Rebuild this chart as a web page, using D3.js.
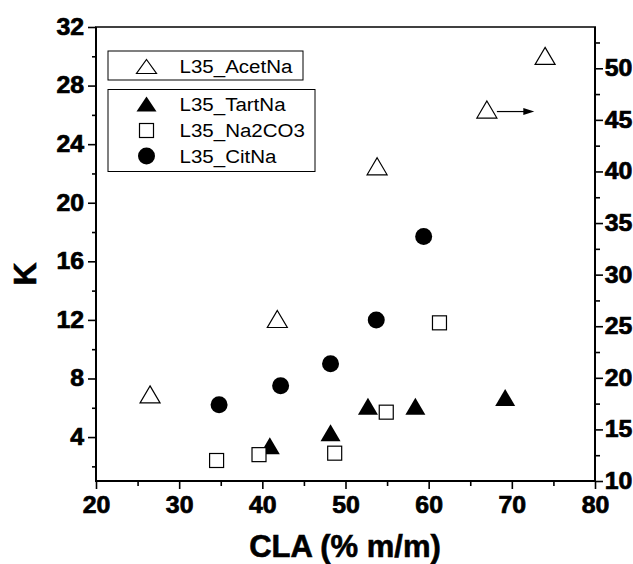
<!DOCTYPE html>
<html>
<head>
<meta charset="utf-8">
<script src="https://cdn.jsdelivr.net/npm/d3@7"></script>
<style>
    body { margin: 0; background: #fff; }
    text { font-family: "Liberation Sans", Arial, sans-serif; }
</style>
</head>
<body>
<div id="chart"></div>
<script>
// CLA content (% m/m) and K per series; AcetNa is read on the right axis
let acetX = [26.5, 41.8, 53.8, 67.0, 74.0]
let acetK = [18.4, 25.7, 40.5, 46.0, 51.2]
let tartX = [40.9, 48.2, 52.7, 58.4, 69.2]
let tartK = [3.4, 4.3, 6.1, 6.1, 6.7]
let na2X = [34.5, 39.6, 48.7, 54.9, 61.3]
let na2K = [2.4, 2.8, 2.9, 5.7, 11.8]
let citX = [34.8, 42.2, 48.2, 53.7, 59.4]
let citK = [6.2, 7.5, 9.0, 12.0, 17.7]

let xTicks = [20, 30, 40, 50, 60, 70, 80]
let leftTicks = [4, 8, 12, 16, 20, 24, 28, 32]
let rightTicks = [10, 15, 20, 25, 30, 35, 40, 45, 50]
let arrowEnd = 72.7

function zip(xs, ys) {
    return xs.map(function(x, i) { return { x: x, y: ys[i] }; })
}

function triangle(w, h) {
    return "M0," + (-h / 2) + "L" + (w / 2) + "," + (h / 2) + "L" + (-w / 2) + "," + (h / 2) + "Z"
}

function drawChart() {
    let width = 633,
        height = 564
    let left = 96, right = 595, top = 27, bottom = 481
    let svg = d3.select("#chart").append("svg")
        .attr("width", width)
        .attr("height", height)

    let xScale = d3.scaleLinear().domain([20, 80]).range([left, right])
    let yLeft = d3.scaleLinear().domain([1, 32]).range([bottom, top])
    let yRight = d3.scaleLinear().domain([10, 54]).range([bottom, top])

    // minor ticks first, majors over them
    svg.append("g")
        .attr("transform", "translate(0," + bottom + ")")
        .call(d3.axisBottom(xScale).tickValues(d3.range(25, 80, 10)).tickSize(5).tickFormat(""))
    svg.append("g")
        .attr("transform", "translate(" + left + ",0)")
        .call(d3.axisLeft(yLeft).tickValues(d3.range(2, 32, 4)).tickSize(4).tickFormat(""))
    svg.append("g")
        .attr("transform", "translate(" + right + ",0)")
        .call(d3.axisRight(yRight).tickValues(d3.range(12.5, 54, 5)).tickSize(5).tickFormat(""))

    let xAxis = svg.append("g")
        .attr("transform", "translate(0," + bottom + ")")
        .call(d3.axisBottom(xScale).tickValues(xTicks).tickSize(8).tickPadding(8))
    let lAxis = svg.append("g")
        .attr("transform", "translate(" + left + ",0)")
        .call(d3.axisLeft(yLeft).tickValues(leftTicks).tickSize(8).tickPadding(3))
    let rAxis = svg.append("g")
        .attr("transform", "translate(" + right + ",0)")
        .call(d3.axisRight(yRight).tickValues(rightTicks).tickSize(8).tickPadding(1))

    svg.selectAll(".domain").remove()
    svg.selectAll(".tick line").attr("stroke", "#000").attr("stroke-width", 1.6)
    svg.selectAll(".tick text")
        .attr("fill", "#000")
        .attr("stroke", "#000")
        .attr("stroke-width", 0.7)
        .attr("font-family", "Liberation Sans, Arial, sans-serif")
        .attr("font-size", 23)
        .attr("font-weight", 700)
        .attr("transform", "scale(1.08,1)")

    // frame
    svg.append("line").attr("x1", left).attr("x2", left).attr("y1", top).attr("y2", bottom + 1)
        .attr("stroke", "#000").attr("stroke-width", 2)
    svg.append("line").attr("x1", right).attr("x2", right).attr("y1", top).attr("y2", bottom + 1)
        .attr("stroke", "#000").attr("stroke-width", 2)
    svg.append("line").attr("x1", left - 1).attr("x2", right + 1).attr("y1", bottom).attr("y2", bottom)
        .attr("stroke", "#000").attr("stroke-width", 2)
    svg.append("line").attr("x1", left - 1).attr("x2", right + 1).attr("y1", top).attr("y2", top)
        .attr("stroke", "#000").attr("stroke-width", 1.5)

    // axis titles
    svg.append("text")
        .attr("transform", "translate(" + 36 + "," + 274 + ") rotate(-90)")
        .attr("text-anchor", "middle")
        .attr("stroke", "#000")
        .attr("stroke-width", 0.6)
        .style("font-size", "32px")
        .style("font-weight", "bold")
        .text("K")
    svg.append("text")
        .attr("x", 345)
        .attr("y", 557)
        .attr("text-anchor", "middle")
        .attr("stroke", "#000")
        .attr("stroke-width", 0.6)
        .style("font-size", "31px")
        .style("font-weight", "bold")
        .text("CLA (% m/m)")

    // series
    svg.selectAll(".acet")
        .data(zip(acetX, acetK))
        .enter()
        .append("path")
        .attr("class", "acet")
        .attr("d", triangle(20, 17))
        .attr("transform", function(d) { return "translate(" + xScale(d.x) + "," + yRight(d.y) + ")"; })
        .attr("fill", "#fff")
        .attr("stroke", "#000")
        .attr("stroke-width", 1.2)
    svg.selectAll(".tart")
        .data(zip(tartX, tartK))
        .enter()
        .append("path")
        .attr("class", "tart")
        .attr("d", triangle(20, 17))
        .attr("transform", function(d) { return "translate(" + xScale(d.x) + "," + yLeft(d.y) + ")"; })
        .attr("fill", "#000")
    svg.selectAll(".na2")
        .data(zip(na2X, na2K))
        .enter()
        .append("rect")
        .attr("class", "na2")
        .attr("x", function(d) { return xScale(d.x) - 7; })
        .attr("y", function(d) { return yLeft(d.y) - 7; })
        .attr("width", 14)
        .attr("height", 14)
        .attr("fill", "#fff")
        .attr("stroke", "#000")
        .attr("stroke-width", 1.2)
    svg.selectAll(".cit")
        .data(zip(citX, citK))
        .enter()
        .append("circle")
        .attr("class", "cit")
        .attr("cx", function(d) { return xScale(d.x); })
        .attr("cy", function(d) { return yLeft(d.y); })
        .attr("r", 8.5)
        .attr("fill", "#000")

    // arrow pointing AcetNa to the right axis
    let ax = xScale(acetX[3]) + 10,
        ay = yRight(acetK[3]) + 2,
        bx = xScale(arrowEnd)
    svg.append("line")
        .attr("x1", ax).attr("x2", bx - 8)
        .attr("y1", ay).attr("y2", ay)
        .attr("stroke", "#000").attr("stroke-width", 1.2)
    svg.append("path")
        .attr("d", "M" + bx + "," + ay + "L" + (bx - 11) + "," + (ay - 3.5) + "L" + (bx - 11) + "," + (ay + 3.5) + "Z")
        .attr("fill", "#000")

    // legends
    svg.append("rect").attr("x", 108).attr("y", 51).attr("width", 195).attr("height", 29)
        .attr("fill", "none").attr("stroke", "#000").attr("stroke-width", 1)
    svg.append("rect").attr("x", 108).attr("y", 89.5).attr("width", 207).attr("height", 82)
        .attr("fill", "none").attr("stroke", "#000").attr("stroke-width", 1)

    let legend = [
        { name: "L35_AcetNa", y: 66.5, kind: "otri" },
        { name: "L35_TartNa", y: 104, kind: "ftri" },
        { name: "L35_Na2CO3", y: 130.5, kind: "sq" },
        { name: "L35_CitNa", y: 156, kind: "circ" }
    ]
    let items = svg.selectAll(".leg")
        .data(legend)
        .enter()
        .append("g")
        .attr("class", "leg")
        .attr("transform", function(d) { return "translate(146.5," + d.y + ")"; })
    items.each(function(d) {
        let g = d3.select(this)
        if (d.kind == "otri") {
            g.append("path").attr("d", triangle(20, 14)).attr("fill", "#fff").attr("stroke", "#000").attr("stroke-width", 1.2)
        } else if (d.kind == "ftri") {
            g.append("path").attr("d", triangle(20, 15)).attr("fill", "#000")
        } else if (d.kind == "sq") {
            g.append("rect").attr("x", -7).attr("y", -7).attr("width", 14).attr("height", 14)
                .attr("fill", "#fff").attr("stroke", "#000").attr("stroke-width", 1.2)
        } else {
            g.append("circle").attr("r", 8.5).attr("fill", "#000")
        }
        g.append("text")
            .attr("transform", "translate(33,0) scale(1.08,1)")
            .attr("dy", "0.35em")
            .style("font-size", "19px")
            .text(d.name)
    })
}

drawChart()
</script>
</body>
</html>
